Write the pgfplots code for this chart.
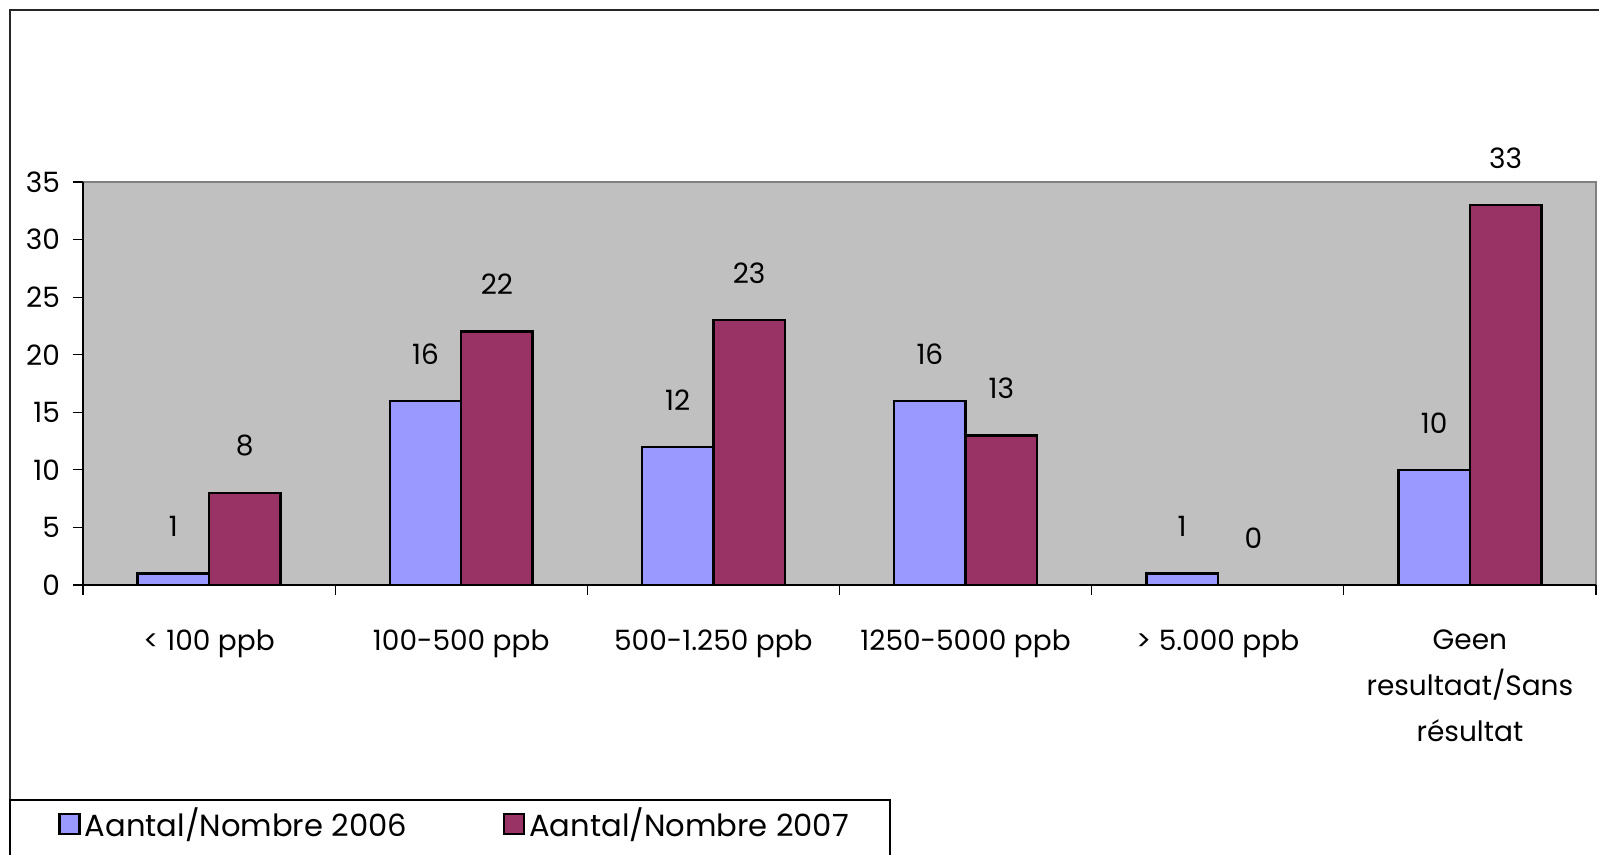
\documentclass[border=0pt]{standalone}
\usepackage{fontspec}
\setmainfont{Poppins}
\usepackage{pgfplots}
\pgfplotsset{compat=1.18}
\definecolor{bar06}{HTML}{9999FF}
\definecolor{bar07}{HTML}{993366}
\definecolor{plotbg}{HTML}{C0C0C0}
\definecolor{bordergray}{HTML}{808080}
\begin{document}
\begin{tikzpicture}
\useasboundingbox (0,0) rectangle (799.5pt,427.5pt);
\clip (0,0) rectangle (799.5pt,427.5pt);
% outer chart frame
\draw[line width=0.8pt, draw=black!85] (5pt,-10pt) -- (5pt,422.5pt) -- (820pt,422.5pt);
% legend frame
\draw[line width=0.6pt] (5pt,-10pt) -- (5pt,27.5pt) -- (445pt,27.5pt) -- (445pt,-10pt);
\begin{axis}[
  at={(41.5pt,135pt)}, anchor=south west,
  scale only axis, width=756.5pt, height=201.5pt,
  xmin=-0.5, xmax=5.5, ymin=0, ymax=35,
  ybar=0pt, bar width=35.7pt,
  axis lines=left,
  axis line style={-, black, line width=0.6pt},
  axis background/.style={fill=plotbg, draw=bordergray, line width=0.8pt},
  tick align=outside,
  major tick length=5pt,
  minor tick length=5pt,
  ytick={0,5,...,35},
  y tick style={black, line width=0.6pt},
  yticklabel style={font=\fontsize{14}{16}\selectfont, anchor=east, xshift=-3pt},
  xtick={0,1,2,3,4,5},
  xticklabels={{< 100 ppb},{100-500 ppb},{500-1.250 ppb},{1250-5000 ppb},{> 5.000 ppb},{Geen\\resultaat/Sans\\résultat}},
  major x tick style={draw=none},
  minor xtick={-0.5,0.5,1.5,2.5,3.5,4.5,5.5},
  minor x tick style={black, line width=0.6pt},
  xticklabel style={font=\fontsize{14}{23}\selectfont, align=center, anchor=north, yshift=-14pt},
  /pgf/number format/assume math mode=true,
  nodes near coords,
  every node near coord/.append style={font=\fontsize{14}{16}\selectfont, anchor=center, yshift=23.5pt, text=black},
  legend columns=2,
  legend style={at={(-0.0165,-0.593)}, anchor=west, draw=none, fill=none, inner sep=0pt,
    font=\fontsize{15.3}{18}\selectfont,
    /tikz/every even column/.append style={column sep=46pt}},
  legend cell align=left,
  legend image code/.code={\draw[#1, draw=black, line width=1.2pt] (0pt,-5pt) rectangle (10pt,5pt);},
  clip=false,
]
\addplot[fill=bar06, draw=black, line width=1.2pt] coordinates {(0,1) (1,16) (2,12) (3,16) (4,1) (5,10)};
\addplot[fill=bar07, draw=black, line width=1.2pt] coordinates {(0,8) (1,22) (2,23) (3,13) (4,0) (5,33)};
\legend{Aantal/Nombre 2006, Aantal/Nombre 2007}
\end{axis}
\end{tikzpicture}
\end{document}
